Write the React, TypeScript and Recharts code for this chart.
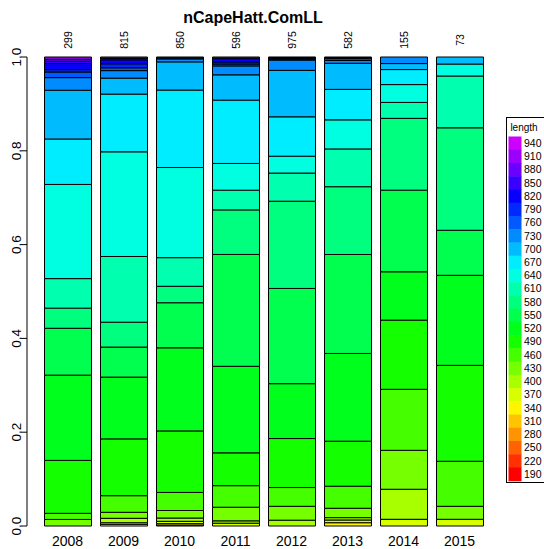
import React from 'react';
import { BarChart, Bar, XAxis, YAxis } from 'recharts';

// length bins (lower edge, mm) and colours, bottom of stack first
const lengthBins = [190, 220, 250, 280, 310, 340, 370, 400, 430, 460, 490, 520, 550,
  580, 610, 640, 670, 700, 730, 760, 790, 820, 850, 880, 910, 940];
const binColors = ['#FF0000', '#FF3100', '#FF6200', '#FF9300', '#FFC400', '#FFF500', '#D8FF00',
  '#A7FF00', '#76FF00', '#45FF00', '#14FF00', '#00FF1D', '#00FF4E', '#00FF7F', '#00FFAF',
  '#00FFE0', '#00ECFF', '#00BCFF', '#008BFF', '#005AFF', '#0029FF', '#0800FF', '#3900FF',
  '#6A00FF', '#9B00FF', '#CC00FF'];

const years = ['2008', '2009', '2010', '2011', '2012', '2013', '2014', '2015'];
const sampleSizes = [299, 815, 850, 596, 975, 582, 155, 73];

// proportion at length, one value per bin (190 ... 940)
const p2008 = [0, 0, 0, 0, 0, 0, 0, 0, 0.014, 0.013, 0.113, 0.182, 0.1, 0.043, 0.063, 0.201,
  0.097, 0.104, 0.027, 0.012, 0.005, 0.013, 0.005, 0.004, 0.005, 0];
const p2009 = [0, 0, 0, 0, 0, 0.0036, 0.0034, 0.0094, 0.0128, 0.0354, 0.121, 0.1316, 0.064,
  0.053, 0.14, 0.223, 0.123, 0.034, 0.016, 0.006, 0.0085, 0.0085, 0.003, 0.003, 0, 0];
const p2010 = [0, 0, 0, 0, 0.002, 0.003, 0.005, 0.007, 0.016, 0.0385, 0.131, 0.177, 0.096,
  0.035, 0.061, 0.192, 0.165, 0.06, 0.0064, 0.002, 0.002, 0, 0, 0, 0, 0];
const p2011 = [0, 0, 0, 0, 0, 0, 0.006, 0.005, 0.029, 0.046, 0.07, 0.1845, 0.2385, 0.095,
  0.042, 0.057, 0.135, 0.054, 0.019, 0.004, 0.0045, 0.007, 0.0035, 0, 0, 0];
const p2012 = [0, 0, 0, 0, 0, 0, 0, 0.0124, 0.0296, 0.04, 0.1045, 0.117, 0.203, 0.186, 0.06,
  0.036, 0.084, 0.099, 0.022, 0.0015, 0.002, 0.002, 0.001, 0, 0, 0];
const p2013 = [0, 0, 0, 0, 0, 0.007, 0.0058, 0.005, 0.02, 0.047, 0.096, 0.187, 0.211, 0.1445,
  0.0805, 0.062, 0.065, 0.0556, 0.006, 0.004, 0.002, 0.0014, 0, 0, 0, 0];
const p2014 = [0, 0, 0, 0, 0, 0, 0.0143, 0.064, 0.083, 0.13, 0.1475, 0.103, 0.174, 0.153,
  0.034, 0.038, 0.032, 0.0128, 0.014, 0, 0, 0, 0, 0, 0, 0];
const p2015 = [0, 0, 0, 0, 0, 0, 0.0143, 0, 0.0277, 0.096, 0.2046, 0.192, 0.096, 0.2185,
  0.1105, 0.0255, 0, 0.015, 0, 0, 0, 0, 0, 0, 0, 0];

const proportions = [p2008, p2009, p2010, p2011, p2012, p2013, p2014, p2015];
const yTicks = [0, 0.2, 0.4, 0.6, 0.8, 1];

const font = '"Liberation Sans", Arial, sans-serif';

const data = years.map((year, i) => {
  const row: Record<string, string | number> = { year, n: String(sampleSizes[i]) };
  lengthBins.forEach((bin, j) => {
    row[`b${bin}`] = proportions[i][j];
  });
  return row;
});

const YTick = (props: any) => {
  const { y, payload } = props;
  return (
    <text
      x={21}
      y={y}
      transform={`rotate(-90, 21, ${y})`}
      textAnchor="middle"
      fontSize={13.5}
      fontFamily={font}
      fill="#000"
    >
      {Number(payload.value).toFixed(1)}
    </text>
  );
};

const YearTick = (props: any) => {
  const { x, payload } = props;
  return (
    <text x={x} y={546} textAnchor="middle" fontSize={14} fontFamily={font} fill="#000">
      {payload.value}
    </text>
  );
};

const CountTick = (props: any) => {
  const { x, payload } = props;
  const bx = x + 4;
  return (
    <text
      x={bx}
      y={40}
      transform={`rotate(-90, ${bx}, 40)`}
      textAnchor="middle"
      fontSize={10.5}
      fontFamily={font}
      fill="#000"
    >
      {payload.value}
    </text>
  );
};

const Legend = () => {
  const step = 13.24;
  const top = 136.5;
  const rev = [...lengthBins].reverse();
  const revCol = [...binColors].reverse();
  return (
    <svg
      width={544}
      height={549}
      style={{ position: 'absolute', left: 0, top: 0, pointerEvents: 'none' }}
    >
      <text x={253} y={23} textAnchor="middle" fontSize={16} fontWeight="bold" fontFamily={font}>
        nCapeHatt.ComLL
      </text>
      <rect x={506.5} y={117.5} width={60} height={365} fill="#fff" stroke="#000" strokeWidth={1} />
      <text x={524} y={131} textAnchor="middle" fontSize={10} fontFamily={font}>length</text>
      {rev.map((bin, k) => (
        <g key={bin}>
          <rect x={508.5} y={top + k * step} width={13} height={step + 0.5} fill={revCol[k]} />
          <text x={524} y={top + k * step + step / 2 + 3.7} fontSize={10.5} fontFamily={font}>
            {bin}
          </text>
        </g>
      ))}
    </svg>
  );
};

export default function App() {
  return (
    <div style={{ position: 'absolute', left: 0, top: 0, width: 544, height: 549, background: '#fff' }}>
      <BarChart
        width={544}
        height={549}
        data={data}
        stackOffset="expand"
        margin={{ top: 0, right: 56.5, bottom: 0, left: 0 }}
      >
        <XAxis
          xAxisId="top"
          orientation="top"
          dataKey="n"
          height={57}
          padding={{ left: 12.5, right: 0 }}
          axisLine={false}
          tickLine={false}
          tick={<CountTick />}
          interval={0}
        />
        <XAxis
          xAxisId="bottom"
          dataKey="year"
          height={23}
          padding={{ left: 12.5, right: 0 }}
          axisLine={false}
          tickLine={false}
          tick={<YearTick />}
          interval={0}
        />
        <YAxis
          width={27}
          domain={[0, 1]}
          ticks={yTicks}
          axisLine={{ stroke: '#000' }}
          tickLine={{ stroke: '#000' }}
          tickSize={6}
          tick={<YTick />}
          interval={0}
        />
        {lengthBins.map((bin, j) => (
          <Bar
            key={bin}
            xAxisId="bottom"
            dataKey={`b${bin}`}
            stackId="len"
            fill={binColors[j]}
            stroke="#000"
            strokeWidth={1}
            barSize={47}
            isAnimationActive={false}
          />
        ))}
      </BarChart>
      <Legend />
    </div>
  );
}
